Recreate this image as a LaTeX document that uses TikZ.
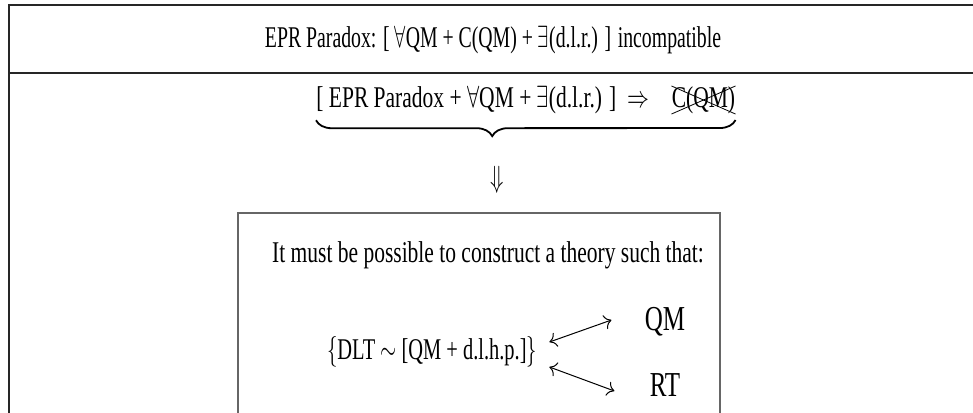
\documentclass[tikz,border=0pt]{standalone}
\usepackage{fontspec}
\setmainfont{Liberation Serif}
\usepackage{graphicx}
\usetikzlibrary{arrows.meta, positioning, calc, decorations.pathreplacing}

\newcommand{\tall}[1]{\scalebox{1}[1.4]{#1}}

\begin{document}
\begin{tikzpicture}[
  x=0.5pt, y=-0.5pt,
  txt/.style={inner sep=0pt, font=\fontsize{10.75pt}{13pt}\selectfont},
  big/.style={txt, font=\fontsize{12.5pt}{15pt}\selectfont},
  frame/.style={line width=1pt, black!85},
  box/.style={line width=0.8pt, black!60},
  dbl/.style={{To[length=3.5pt]}-{To[length=3.5pt]}, line width=0.5pt},
  strike/.style={line width=0.4pt},
  brc/.style={decorate, decoration={brace, mirror, amplitude=8pt, aspect=0.42}, line width=0.9pt}
]
\useasboundingbox (0,0) rectangle (973,412);

% outer frame and divider
\draw[frame] (9,420) |- (980,5);
\draw[frame] (9,73) -- (980,73);

% title
\node[txt] (title) at (493,40) {\scalebox{0.92}[1.4]{EPR Paradox: [ $\forall$QM + C(QM) + $\exists$(d.l.r.) ] incompatible}};

% second line, crossed out C(QM) and brace
\node[txt, anchor=west] (lhs) at (316,100) {\tall{[ EPR Paradox + $\forall$QM + $\exists$(d.l.r.) ]\ \ $\Rightarrow$}};
\node[txt, right=11pt of lhs] (cqm) {\tall{C(QM)}};
\draw[strike] (cqm.south west) -- (cqm.north east);
\draw[strike] (cqm.north west) -- (cqm.south east);
\draw[brc] ([yshift=-3pt]lhs.south west) -- ([yshift=-3pt]cqm.south east);

\node[txt] (dn) at (497,180) {\tall{$\Downarrow$}};

% theory box
\draw[box] (238,420) |- (720,213) -- (720,420);
\node[txt] (must) at (488,255) {\tall{It must be possible to construct a theory such that:}};
\node[txt] (dlt) at (432,352) {\scalebox{0.95}[1.4]{$\{$DLT $\sim$ [QM + d.l.h.p.]$\}$}};
\node[big] (qm) at (665,322) {\tall{QM}};
\node[big] (rt) at (665,385) {\tall{RT}};
\draw[dbl] ($(dlt.east)+(12,-10)$) -- ($(qm.west)+(-33,-2)$);
\draw[dbl] ($(dlt.east)+(12,15)$) -- ($(rt.west)+(-35,6)$);

\end{tikzpicture}
\end{document}
